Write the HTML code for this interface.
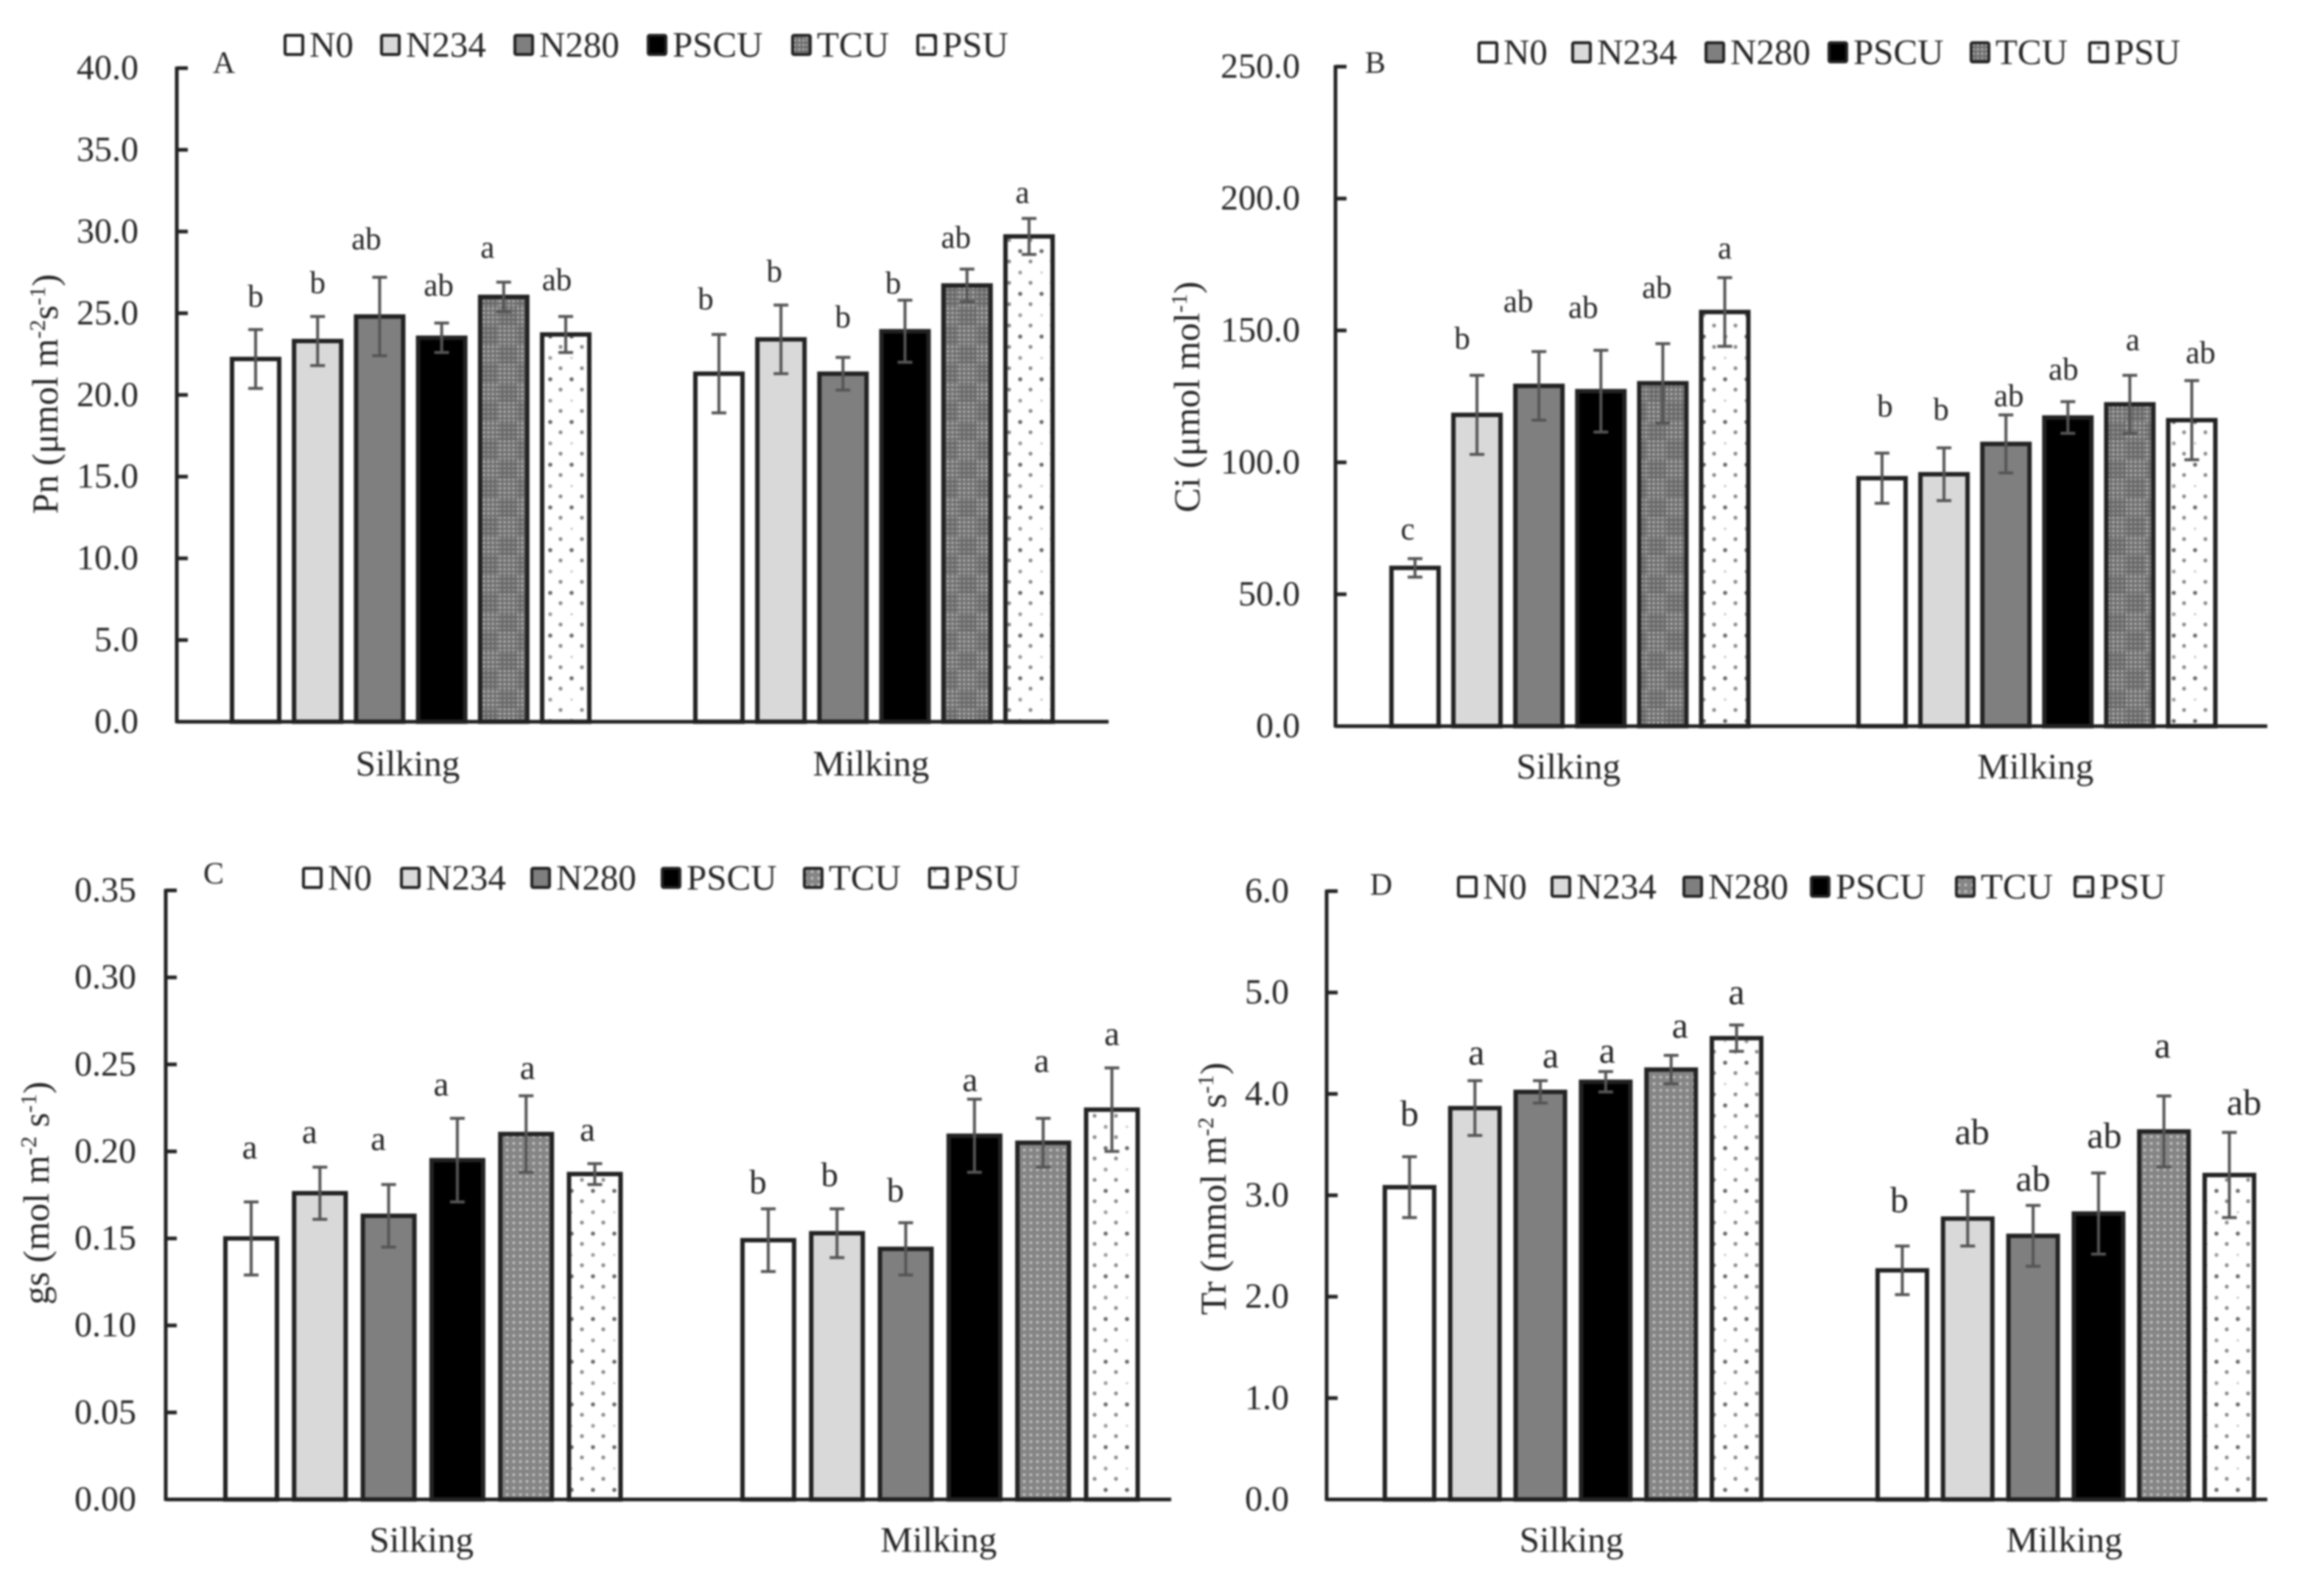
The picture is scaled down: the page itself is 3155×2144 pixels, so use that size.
<!DOCTYPE html>
<html lang="en">
<head>
<meta charset="utf-8">
<title>Leaf gas exchange by growth stage and nitrogen treatment</title>
<style>
  html, body { margin: 0; padding: 0; background: #fff; }
  svg { display: block; filter: blur(1.2px); }
  text { font-family: "Liberation Serif", "DejaVu Serif", serif; fill: #262626; }
</style>
</head>
<body>
<svg id="figure" xmlns="http://www.w3.org/2000/svg" width="3155" height="2144" viewBox="0 0 3155 2144">
  <defs>
    <pattern id="tcuDots" width="6" height="6" patternUnits="userSpaceOnUse">
      <rect width="6" height="6" fill="#6f6f6f"/>
      <rect x="1.5" y="1.5" width="3" height="3" fill="#b8b8b8"/>
    </pattern>
    <pattern id="tcuFill" width="52" height="52" patternUnits="userSpaceOnUse">
      <rect width="52" height="52" fill="url(#tcuDots)"/>
      <rect x="0" y="0" width="26" height="26" fill="#555" opacity="0.28"/>
      <rect x="26" y="26" width="26" height="26" fill="#555" opacity="0.28"/>
    </pattern>
    <pattern id="tcuFine" width="9" height="9" patternUnits="userSpaceOnUse">
      <rect width="9" height="9" fill="#858585"/>
      <circle cx="4.5" cy="4.5" r="1.9" fill="#c4c4c4"/>
    </pattern>
    <pattern id="psuDots" width="58" height="58" patternUnits="userSpaceOnUse">
      <rect width="58" height="58" fill="#fff"/>
      <circle cx="7" cy="7" r="2.6" fill="#888"/>
      <circle cx="36" cy="7" r="2.6" fill="#888"/>
      <circle cx="22" cy="22" r="1.6" fill="#c4c4c4"/>
      <circle cx="51" cy="22" r="2.6" fill="#999"/>
      <circle cx="7" cy="36" r="2.6" fill="#888"/>
      <circle cx="36" cy="36" r="2.6" fill="#888"/>
      <circle cx="22" cy="51" r="2.8" fill="#666"/>
      <circle cx="51" cy="51" r="2.8" fill="#666"/>
    </pattern>
  </defs>
</svg>
<script>
// Shared categories
const seriesNames = ['N0', 'N234', 'N280', 'PSCU', 'TCU', 'PSU'];
const stageNames = ['Silking', 'Milking'];

// Panel A: Pn
const pnTicks = ['0.0', '5.0', '10.0', '15.0', '20.0', '25.0', '30.0', '35.0', '40.0'];
const pnSilking = [22.2, 23.3, 24.8, 23.5, 26.0, 23.7];
const pnMilking = [21.3, 23.4, 21.3, 23.9, 26.7, 29.7];
const pnSilkingErr = [1.8, 1.5, 2.4, 0.9, 0.9, 1.1];
const pnMilkingErr = [2.4, 2.1, 1.0, 1.9, 1.0, 1.1];
const pnSilkingLetters = ['b', 'b', 'ab', 'ab', 'a', 'ab'];
const pnMilkingLetters = ['b', 'b', 'b', 'b', 'ab', 'a'];

// Panel B: Ci
const ciTicks = ['0.0', '50.0', '100.0', '150.0', '200.0', '250.0'];
const ciSilking = [60, 118, 129, 127, 130, 157];
const ciMilking = [94, 95.5, 107, 117, 122, 116];
const ciSilkingErr = [3.5, 15, 13, 15.5, 15, 13];
const ciMilkingErr = [9.5, 10, 11, 6, 11, 15];
const ciSilkingLetters = ['c', 'b', 'ab', 'ab', 'ab', 'a'];
const ciMilkingLetters = ['b', 'b', 'ab', 'ab', 'a', 'ab'];

// Panel C: gs
const gsTicks = ['0.00', '0.05', '0.10', '0.15', '0.20', '0.25', '0.30', '0.35'];
const gsSilking = [0.150, 0.176, 0.163, 0.195, 0.210, 0.187];
const gsMilking = [0.149, 0.153, 0.144, 0.209, 0.205, 0.224];
const gsSilkingErr = [0.021, 0.015, 0.018, 0.024, 0.022, 0.006];
const gsMilkingErr = [0.018, 0.014, 0.015, 0.021, 0.014, 0.024];
const gsSilkingLetters = ['a', 'a', 'a', 'a', 'a', 'a'];
const gsMilkingLetters = ['b', 'b', 'b', 'a', 'a', 'a'];

// Panel D: Tr
const trTicks = ['0.0', '1.0', '2.0', '3.0', '4.0', '5.0', '6.0'];
const trSilking = [3.08, 3.86, 4.02, 4.12, 4.24, 4.55];
const trMilking = [2.26, 2.77, 2.60, 2.82, 3.63, 3.20];
const trSilkingErr = [0.30, 0.27, 0.11, 0.10, 0.14, 0.13];
const trMilkingErr = [0.24, 0.27, 0.30, 0.40, 0.35, 0.42];
const trSilkingLetters = ['b', 'a', 'a', 'a', 'a', 'a'];
const trMilkingLetters = ['b', 'ab', 'ab', 'ab', 'a', 'ab'];

// Panel layout (geometry only; values come from the arrays above)
const panelLayouts = [
  { id: 'a', tag: 'A', tagX: 304, tagY: 99, axisX: 240, axisEnd: 1505, baseY: 980, topY: 92.5, starts: [312, 941], step: 84.2, barW: 70,
    labelGap: 52, catY: 1053, catShift: -4, tcu: 'url(#tcuFill)', letterSize: 43, tagSize: 42, titleX: 62, titleY: 535,
    title: [['Pn (μmol m', 0], ['-2', 1], ['s', 0], ['-1', 1], [')', 0]],
    ticks: pnTicks, values: [pnSilking, pnMilking], errors: [pnSilkingErr, pnMilkingErr], letters: [pnSilkingLetters, pnMilkingLetters],
    letterGaps: [43, 44, 50, 49, 45, 48, 46, 44, 53, 21, 41, 33], letterShifts: [0, 0, -18, -4, -22, -12, -18, -9, 0, -16, -15, -9],
    legendSwatches: [385, 516, 697, 878, 1074, 1244], legendY: 61 },
  { id: 'b', tag: 'B', tagX: 1867, tagY: 99, axisX: 1813, axisEnd: 3078, baseY: 986, topY: 90.5, starts: [1886, 2520], step: 84.1, barW: 70,
    labelGap: 48, catY: 1057, catShift: -2, tcu: 'url(#tcuFill)', letterSize: 43, tagSize: 42, titleX: 1612, titleY: 539,
    title: [['Ci (μmol mol', 0], ['-1', 1], [')', 0]],
    ticks: ciTicks, values: [ciSilking, ciMilking], errors: [ciSilkingErr, ciMilkingErr], letters: [ciSilkingLetters, ciMilkingLetters],
    letterGaps: [38, 48, 66, 56, 74, 38, 62, 50, 24, 42, 46, 36], letterShifts: [-10, -20, -28, -24, -8, 0, 4, -4, 4, -6, 4, 12],
    legendSwatches: [2006, 2133, 2314, 2481, 2674, 2835], legendY: 71 },
  { id: 'c', tag: 'C', tagX: 290, tagY: 1200, axisX: 225, axisEnd: 1590, baseY: 2036, topY: 1209, starts: [303, 1005], step: 93.3, barW: 76,
    labelGap: 40, catY: 2107, catShift: -2, tcu: 'url(#tcuFine)', letterSize: 47, tagSize: 42, titleX: 50, titleY: 1620,
    title: [['gs (mol m', 0], ['-2', 1], [' s', 0], ['-1', 1], [')', 0]],
    ticks: gsTicks, values: [gsSilking, gsMilking], errors: [gsSilkingErr, gsMilkingErr], letters: [gsSilkingLetters, gsMilkingLetters],
    letterGaps: [72, 46, 60, 44, 36, 44, 34, 44, 42, 24, 76, 44], letterShifts: [-2, -14, -14, -22, 2, -10, -14, -10, -14, -6, -2, 0],
    legendSwatches: [410, 543, 720, 897, 1090, 1260], legendY: 1192 },
  { id: 'd', tag: 'D', tagX: 1875, tagY: 1215, axisX: 1801, axisEnd: 3078, baseY: 2036, topY: 1210, starts: [1877, 2546], step: 88.8, barW: 73,
    labelGap: 51, catY: 2107, catShift: -2, tcu: 'url(#tcuFine)', letterSize: 50, tagSize: 42, titleX: 1648, titleY: 1614,
    title: [['Tr (mmol m', 0], ['-2', 1], [' s', 0], ['-1', 1], [')', 0]],
    ticks: trTicks, values: [trSilking, trMilking], errors: [trSilkingErr, trMilkingErr], letters: [trSilkingLetters, trMilkingLetters],
    letterGaps: [56, 36, 32, 26, 38, 42, 60, 78, 34, 48, 66, 38], letterShifts: [0, 2, 14, 2, 12, 0, -4, 6, 0, 8, -2, 20],
    legendSwatches: [1978, 2105, 2284, 2457, 2654, 2815], legendY: 1204 }
];

const NS = 'http://www.w3.org/2000/svg';
const svgRoot = document.getElementById('figure');

function make(tag, parent, attrs, content) {
  const el = document.createElementNS(NS, tag);
  for (const key in attrs) el.setAttribute(key, attrs[key]);
  if (content !== undefined) el.textContent = content;
  parent.appendChild(el);
  return el;
}

function seriesFill(seriesIndex, panel) {
  if (seriesIndex === 0) return '#ffffff';
  if (seriesIndex === 1) return '#d9d9d9';
  if (seriesIndex === 2) return '#7f7f7f';
  if (seriesIndex === 3) return '#000000';
  if (seriesIndex === 4) return panel.tcu;
  return 'url(#psuDots)';
}

function drawPanel(panel) {
  const maxValue = parseFloat(panel.ticks[panel.ticks.length - 1]);
  const yScale = function (v) { return panel.baseY - (v / maxValue) * (panel.baseY - panel.topY); };
  const xBar = function (g, s) { return panel.starts[g] + s * panel.step; };

  const group = make('g', svgRoot, {});
  
  

  // Bars, error bars and significance letters
  panel.values.forEach(function (stageValues, g) {
    stageValues.forEach(function (value, s) {
      const left = xBar(g, s);
      const centre = left + panel.barW / 2;
      const yTop = yScale(value);
      const bar = make('rect', group, {
        x: left + 3, y: yTop, width: panel.barW - 6, height: panel.baseY - yTop,
        fill: seriesFill(s, panel), stroke: '#222', 'stroke-width': 6
      });
      
      

      const err = panel.errors[g][s];
      const yHigh = yScale(value + err);
      const yLow = yScale(value - err);
      const errPath = make('path', group, {
        d: 'M' + centre + ' ' + yHigh + 'V' + yLow +
           'M' + (centre - 10) + ' ' + yHigh + 'H' + (centre + 10) +
           'M' + (centre - 10) + ' ' + yLow + 'H' + (centre + 10),
        fill: 'none', stroke: '#555', 'stroke-width': 4
      });
      
      

      const idx = g * 6 + s;
      const letter = make('text', group, {
        x: centre + panel.letterShifts[idx],
        y: yHigh - panel.letterGaps[idx] + panel.letterSize * 0.28,
        'font-size': panel.letterSize, 'text-anchor': 'middle'
      }, panel.letters[g][s]);
      
      
    });

    const catCentre = (xBar(g, 0) + xBar(g, 5) + panel.barW) / 2 + panel.catShift;
    const catLabel = make('text', group, {
      x: catCentre, y: panel.catY, 'font-size': 49, 'text-anchor': 'middle'
    }, stageNames[g]);
    
    
  });

  // Axes
  const yAxis = make('line', group, {
    x1: panel.axisX, x2: panel.axisX, y1: panel.topY - 2, y2: panel.baseY + 2, stroke: '#222', 'stroke-width': 5
  });
  
  

  const xAxis = make('line', group, {
    x1: panel.axisX, x2: panel.axisEnd, y1: panel.baseY, y2: panel.baseY, stroke: '#222', 'stroke-width': 5
  });
  
  

  panel.ticks.forEach(function (label) {
    const y = yScale(parseFloat(label));
    const tick = make('line', group, {
      x1: panel.axisX, x2: panel.axisX + 15, y1: y, y2: y, stroke: '#222', 'stroke-width': 5
    });
    
    

    const tickLabel = make('text', group, {
      x: panel.axisX - panel.labelGap, y: y + 15, 'font-size': 48, 'text-anchor': 'end'
    }, label);
    
    
  });

  // Rotated y-axis title
  const title = make('text', group, {
    transform: 'translate(' + panel.titleX + ',' + panel.titleY + ') rotate(-90)',
    x: 0, y: 16, 'font-size': 50, 'text-anchor': 'middle'
  });
  
  
  let raised = false;
  panel.title.forEach(function (part) {
    const isSup = part[1] === 1;
    const attrs = { 'font-size': isSup ? 31 : 50 };
    if (isSup && !raised) attrs.dy = -17;
    if (!isSup && raised) attrs.dy = 17;
    raised = isSup;
    make('tspan', title, attrs, part[0]);
  });

  // Panel tag
  const tag = make('text', group, {
    x: panel.tagX, y: panel.tagY, 'font-size': panel.tagSize, 'text-anchor': 'middle'
  }, panel.tag);
  
  

  // Legend
  seriesNames.forEach(function (name, s) {
    const swatch = make('rect', group, {
      x: panel.legendSwatches[s] + 2, y: panel.legendY - 13, width: 24, height: 26, rx: 2,
      fill: seriesFill(s, panel), stroke: '#222', 'stroke-width': 4
    });
    
    

    const legendText = make('text', group, {
      x: panel.legendSwatches[s] + 35, y: panel.legendY + 16, 'font-size': 49
    }, name);
    
    
  });
}

panelLayouts.forEach(drawPanel);
</script>
</body>
</html>
